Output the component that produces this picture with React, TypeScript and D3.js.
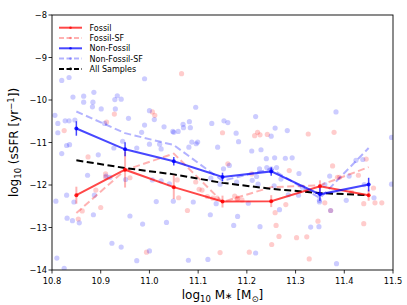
import React from "react";
import * as d3 from "d3";

const massBins = [10.85, 10.95, 11.05, 11.15, 11.25, 11.35, 11.45];
const fossil = [-12.24, -11.64, -12.05, -12.39, -12.38, -12.03, -12.24];
const fossilErr = [0.2, 0.42, 0.28, 0.14, 0.14, 0.14, 0.13];
const fossilSF = [-12.66, -11.65, -11.26, -12.4, -12.05, -12.01, -11.58];
const nonFossil = [-10.67, -11.16, -11.44, -11.81, -11.68, -12.22, -11.99];
const nonFossilErr = [0.17, 0.165, 0.1, 0.1, 0.1, 0.15, 0.16];
const nonFossilSF = [-10.27, -10.78, -11.06, -11.9, -11.62, -12.31, -11.13];
const allSamples = [-11.42, -11.6, -11.75, -11.95, -12.09, -12.19, -12.24];

const xTicks = [10.8, 10.9, 11.0, 11.1, 11.2, 11.3, 11.4, 11.5];
const yTicks = [-14, -13, -12, -11, -10, -9, -8];

// scatter points [mass, log sSFR]
const bluePts: [number, number][] = [
  [10.835, -9.47], [10.82, -9.54], [10.99, -9.5], [10.886, -9.82], [10.843, -9.93], [10.865, -9.91],
  [10.934, -9.9], [10.942, -9.98], [10.929, -9.99], [10.884, -10.05], [10.865, -10.05], [10.883, -10.16],
  [10.901, -10.21], [10.93, -10.21], [11.0, -10.25], [11.095, -10.17], [10.806, -10.36], [10.957, -10.43],
  [10.847, -10.47], [11.01, -10.46], [11.082, -10.51], [11.069, -10.57], [10.99, -10.59], [11.03, -10.63],
  [10.812, -10.55], [10.827, -10.49], [10.835, -10.49], [10.908, -10.55], [11.05, -10.76], [11.07, -10.65],
  [11.084, -10.65], [11.128, -10.55], [11.153, -10.49], [11.161, -10.53], [10.812, -10.77], [10.984, -10.76],
  [11.048, -10.74], [11.059, -10.74], [10.945, -10.97], [11.087, -10.99], [11.099, -10.99],
  [11.218, -10.39], [11.383, -10.28], [11.258, -10.66], [11.283, -10.72], [11.178, -10.78], [11.25, -10.85],
  [11.497, -10.88], [10.836, -11.05], [10.82, -11.26], [10.83, -11.07], [10.927, -11.13], [10.895, -11.29],
  [10.974, -11.13], [11.0, -11.04], [11.021, -11.04], [11.024, -11.15], [11.081, -11.11], [11.096, -11.03],
  [11.14, -11.11], [11.183, -10.98], [11.21, -11.2], [11.229, -11.17], [11.24, -11.38], [11.257, -11.36],
  [11.279, -11.37], [11.293, -11.36], [11.164, -11.54], [11.152, -11.62], [11.226, -11.62], [11.241, -11.59],
  [11.25, -11.62], [11.261, -11.59], [11.37, -11.79], [11.41, -11.79], [11.424, -11.42], [11.438, -11.4],
  [10.873, -11.77], [10.911, -11.79], [10.919, -11.82], [10.951, -11.87], [11.006, -11.88], [11.024, -11.9],
  [11.041, -11.97], [11.126, -11.84], [11.145, -11.98], [11.179, -11.93], [11.211, -11.89], [11.22, -11.8],
  [11.27, -11.86], [11.307, -11.73], [11.36, -11.99], [11.223, -11.98], [11.256, -12.02], [11.314, -12.05],
  [10.83, -12.24], [10.808, -12.38], [10.887, -12.24], [11.014, -12.39], [11.049, -12.38], [11.09, -12.4],
  [11.137, -12.44], [11.203, -12.43], [11.285, -12.23], [11.306, -12.24], [11.349, -12.36], [11.349, -12.4],
  [11.372, -12.6], [11.404, -12.36], [11.461, -12.3], [11.497, -11.98], [11.441, -11.99], [11.125, -12.7],
  [11.181, -12.74], [10.885, -12.7], [10.96, -12.73], [10.831, -12.78], [10.842, -12.84], [10.856, -12.89],
  [10.986, -12.92], [11.035, -12.88], [11.173, -12.95], [11.227, -12.98], [11.267, -12.58], [11.331, -12.99],
  [11.348, -12.98], [10.923, -13.37], [10.942, -13.46], [11.12, -13.75], [10.974, -13.78], [11.0, -13.55],
  [11.08, -13.77], [10.81, -13.72], [10.825, -13.96], [11.218, -13.6], [11.384, -13.85], [10.845, -12.4],
];
const redPts: [number, number][] = [
  [11.066, -9.38], [10.928, -10.33], [11.006, -10.28], [11.011, -10.36], [10.912, -10.52], [10.825, -10.72],
  [11.222, -10.76], [11.227, -10.82], [11.15, -10.77], [11.242, -10.81], [11.326, -10.8], [11.379, -10.76],
  [11.216, -10.84], [10.874, -11.34], [10.91, -11.74], [10.91, -11.82], [10.96, -11.83], [11.095, -11.93],
  [11.057, -11.88], [10.89, -12.12], [11.161, -11.5], [11.21, -11.74], [11.287, -11.66], [11.376, -11.55],
  [11.445, -11.39], [11.429, -11.77], [11.386, -11.82], [11.39, -11.82], [11.06, -12.3], [11.102, -12.1],
  [11.108, -12.12], [11.119, -12.27], [11.13, -12.31], [11.139, -12.31], [11.175, -12.26], [11.18, -12.33],
  [10.9, -12.53], [10.862, -12.61], [10.854, -12.8], [11.078, -12.6], [11.181, -12.31], [11.19, -12.35],
  [11.28, -12.46], [11.258, -12.65], [11.36, -12.42], [11.44, -12.44], [11.463, -12.42], [11.477, -12.42],
  [11.372, -12.6], [11.44, -12.91], [11.346, -12.85], [11.26, -12.95], [11.266, -13.21], [11.302, -13.24],
  [11.323, -13.22], [11.251, -13.4], [11.205, -13.58], [11.328, -13.74], [11.145, -13.59], [10.994, -13.58],
  [11.415, -12.17], [11.46, -12.07],
];

const W = 407, H = 305;
const M = { left: 52, right: 14, top: 15, bottom: 35 };

export default function App() {
  const x = d3.scaleLinear().domain([10.8, 11.5]).range([M.left, W - M.right]);
  const y = d3.scaleLinear().domain([-14, -8]).range([H - M.bottom, M.top]);
  const line = (vals: number[]) =>
    d3.line<number>().x((_, i) => x(massBins[i])).y((v) => y(v))(vals) || "";

  const red = "rgba(255,0,0,0.72)";
  const blue = "rgba(0,0,255,0.72)";
  const lred = "rgba(255,0,0,0.3)";
  const lblue = "rgba(0,0,255,0.3)";
  const font = "DejaVu Sans, sans-serif";

  const legend = [
    { label: "Fossil", color: red, dash: "" },
    { label: "Fossil-SF", color: lred, dash: "5,2.5" },
    { label: "Non-Fossil", color: blue, dash: "" },
    { label: "Non-Fossil-SF", color: lblue, dash: "5,2.5" },
    { label: "All Samples", color: "#000", dash: "5,2.5" },
  ];

  return (
    <svg width={W} height={H} style={{ position: "absolute", left: 0, top: 0, background: "#fff" }}>
      <defs>
        <clipPath id="plot">
          <rect x={M.left} y={M.top} width={W - M.left - M.right} height={H - M.top - M.bottom} />
        </clipPath>
      </defs>
      <g clipPath="url(#plot)">
        {redPts.map((p, i) => (
          <circle key={"r" + i} cx={x(p[0])} cy={y(p[1])} r={2.6} fill="rgba(255,0,0,0.2)" />
        ))}
        {bluePts.map((p, i) => (
          <circle key={"b" + i} cx={x(p[0])} cy={y(p[1])} r={2.6} fill="rgba(0,0,255,0.2)" />
        ))}
        <path d={line(fossilSF)} fill="none" stroke={lred} strokeWidth={2} strokeDasharray="7,3.5" />
        <path d={line(nonFossilSF)} fill="none" stroke={lblue} strokeWidth={2} strokeDasharray="7,3.5" />
        <path d={line(allSamples)} fill="none" stroke="#000" strokeWidth={2} strokeDasharray="7,3.5" />
        <path d={line(fossil)} fill="none" stroke={red} strokeWidth={2} />
        {fossil.map((v, i) => (
          <g key={"fe" + i}>
            <line x1={x(massBins[i])} x2={x(massBins[i])} y1={y(v - fossilErr[i])} y2={y(v + fossilErr[i])} stroke={lred} strokeWidth={2} />
            <circle cx={x(massBins[i])} cy={y(v)} r={2} fill="rgba(255,0,0,0.85)" />
          </g>
        ))}
        <path d={line(nonFossil)} fill="none" stroke={blue} strokeWidth={2} />
        {nonFossil.map((v, i) => (
          <g key={"ne" + i}>
            <line x1={x(massBins[i])} x2={x(massBins[i])} y1={y(v - nonFossilErr[i])} y2={y(v + nonFossilErr[i])} stroke={blue} strokeWidth={1.5} />
            <circle cx={x(massBins[i])} cy={y(v)} r={2} fill="rgba(0,0,255,0.85)" />
          </g>
        ))}
      </g>
      {/* frame */}
      <rect x={M.left} y={M.top} width={W - M.left - M.right} height={H - M.top - M.bottom} fill="none" stroke="#000" strokeWidth={0.9} />
      {xTicks.map((t) => (
        <g key={"xt" + t}>
          <line x1={x(t)} x2={x(t)} y1={H - M.bottom} y2={H - M.bottom + 3.5} stroke="#000" strokeWidth={0.8} />
          <text x={x(t)} y={H - M.bottom + 14} textAnchor="middle" fontFamily={font} fontSize={8.3}>
            {t.toFixed(1)}
          </text>
        </g>
      ))}
      {yTicks.map((t) => (
        <g key={"yt" + t}>
          <line x1={M.left - 3.5} x2={M.left} y1={y(t)} y2={y(t)} stroke="#000" strokeWidth={0.8} />
          <text x={M.left - 5} y={y(t) + 3} textAnchor="end" fontFamily={font} fontSize={8.3}>
            {"\u2212" + Math.abs(t)}
          </text>
        </g>
      ))}
      <text x={(M.left + W - M.right) / 2} y={299} textAnchor="middle" fontFamily={font} fontSize={12}>
        log<tspan fontSize={8.5} dy={3}>10</tspan>
        <tspan dy={-3}> M</tspan>
        <tspan fontSize={9}>∗</tspan>
        <tspan> [M</tspan>
        <tspan fontSize={8.5} dy={3}>⊙</tspan>
        <tspan dy={-3}>]</tspan>
      </text>
      <text transform={`translate(17.5,${(M.top + H - M.bottom) / 2}) rotate(-90)`} textAnchor="middle" fontFamily={font} fontSize={12}>
        log<tspan fontSize={8.5} dy={3}>10</tspan>
        <tspan dy={-3}> (sSFR [yr</tspan>
        <tspan fontSize={8.5} dy={-4}>−1</tspan>
        <tspan dy={4}>])</tspan>
      </text>
      {legend.map((l, i) => (
        <g key={"lg" + i}>
          <line x1={59} x2={82} y1={27.7 + i * 10.3} y2={27.7 + i * 10.3} stroke={l.color} strokeWidth={2} strokeDasharray={l.dash} />
          <circle cx={70.5} cy={27.7 + i * 10.3} r={1.3} fill={l.color} />
          <text x={89.5} y={27.7 + i * 10.3 + 3} fontFamily={font} fontSize={8}>
            {l.label}
          </text>
        </g>
      ))}
    </svg>
  );
}
